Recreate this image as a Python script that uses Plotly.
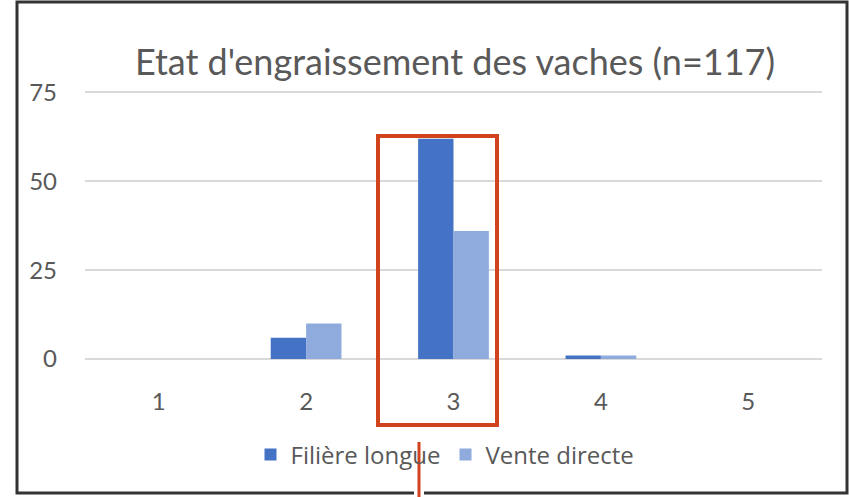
import plotly.graph_objects as go

categories = ["1", "2", "3", "4", "5"]
filiere_longue = [0, 6, 62, 1, 0]
vente_directe = [0, 10, 36, 1, 0]
y_ticks = [0, 25, 50, 75]
title_text = "Etat d'engraissement des vaches (n=117)"

W, H = 849, 497
L, R, T, B = 85, 27, 91, 138
pw = W - L - R
ph = H - T - B

def px(x):
    return (x - L) / pw

def py(y):
    return (H - B - y) / ph

fig = go.Figure()
fig.add_trace(go.Bar(name="Filière longue", x=categories, y=filiere_longue,
                     marker=dict(color="#4472C4", line=dict(width=0))))
fig.add_trace(go.Bar(name="Vente directe", x=categories, y=vente_directe,
                     marker=dict(color="#8FAADC", line=dict(width=0))))

gray = "#595959"
fig.update_layout(
    width=W, height=H,
    margin=dict(l=L, r=R, t=T, b=B),
    paper_bgcolor="white", plot_bgcolor="white",
    barmode="group", bargap=0.52, bargroupgap=0,
    font=dict(family="Lato", color=gray, size=20),
    title=dict(text=title_text, x=455 / W, xanchor="center",
               y=1 - 62 / H, yanchor="middle",
               font=dict(family="Lato", size=36, color=gray)),
    xaxis=dict(type="category", showgrid=False, showline=False, ticks="",
               tickfont=dict(size=24, color=gray), ticklabelstandoff=26),
    yaxis=dict(range=[0, 75.4], tickvals=y_ticks, showgrid=True,
               gridcolor="#D9D9D9", gridwidth=2, zeroline=True,
               zerolinecolor="#D9D9D9", zerolinewidth=2, showline=False,
               ticks="", tickfont=dict(size=24, color=gray), ticklabelstandoff=27),
    legend=dict(orientation="h", x=px(445), xanchor="center",
                y=py(455), yanchor="middle",
                font=dict(family="Open Sans", size=24, color=gray),
                itemwidth=30, traceorder="normal", bgcolor="rgba(0,0,0,0)"),
    showlegend=True,
)

shapes = []
shapes.append(dict(type="rect", xref="paper", yref="paper",
                   x0=px(17), x1=px(847), y0=py(493), y1=py(2),
                   line=dict(color="#333333", width=3), layer="above"))
red = "#D0431C"
shapes.append(dict(type="rect", xref="paper", yref="paper",
                   x0=px(378), x1=px(497), y0=py(425), y1=py(136),
                   line=dict(color=red, width=4), layer="above"))
shapes.append(dict(type="line", xref="paper", yref="paper",
                   x0=px(419), x1=px(419), y0=py(442), y1=py(500),
                   line=dict(color="white", width=10), layer="above"))
shapes.append(dict(type="line", xref="paper", yref="paper",
                   x0=px(419), x1=px(419), y0=py(442), y1=py(500),
                   line=dict(color=red, width=3), layer="above"))
fig.update_layout(shapes=shapes)

fig.write_html("out.html", config={"displayModeBar": False},
               post_script="document.body.style.margin='0px';document.body.style.padding='0px';")
